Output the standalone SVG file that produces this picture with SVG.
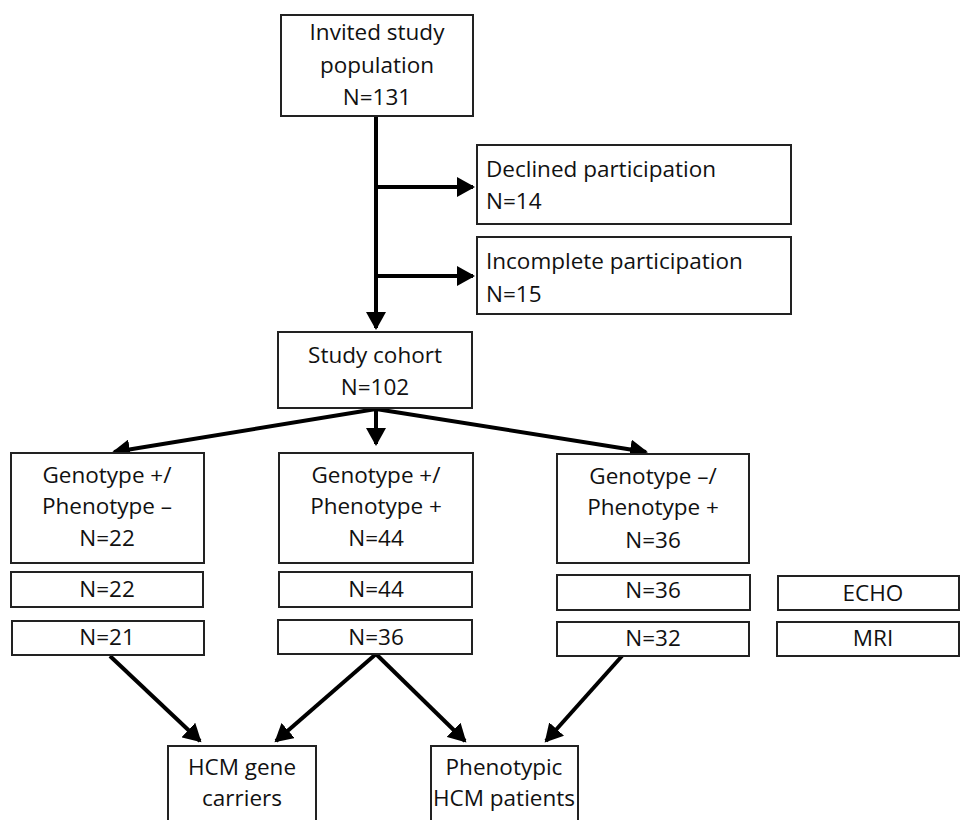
<svg xmlns="http://www.w3.org/2000/svg" width="960" height="820" viewBox="0 0 960 820">
<style>
.box{fill:#fff;stroke:#222;stroke-width:2}
text{font-family:"Open Sans","Liberation Sans",sans-serif;font-size:22.5px;fill:#111}
.c{text-anchor:middle}
.ln{stroke:#000;stroke-width:4;fill:none}
</style>
<defs>
<marker id="ah" markerWidth="5" markerHeight="5" refX="4" refY="2.5" orient="auto" markerUnits="strokeWidth">
<path d="M0,0 L4.5,2.5 L0,5 z" fill="#000"/>
</marker>
</defs>
<rect width="960" height="820" fill="#fff"/>
<g id="connectors">
<line class="ln" x1="376" y1="116" x2="376" y2="328" marker-end="url(#ah)"/>
<line class="ln" x1="376" y1="187" x2="473" y2="187" marker-end="url(#ah)"/>
<line class="ln" x1="376" y1="276" x2="473" y2="276" marker-end="url(#ah)"/>
<line class="ln" x1="376" y1="409" x2="114" y2="452" marker-end="url(#ah)"/>
<line class="ln" x1="376" y1="409" x2="376" y2="444" marker-end="url(#ah)"/>
<line class="ln" x1="376" y1="409" x2="646" y2="452" marker-end="url(#ah)"/>
<line class="ln" x1="110" y1="656" x2="200" y2="741" marker-end="url(#ah)"/>
<line class="ln" x1="376" y1="654" x2="276" y2="741" marker-end="url(#ah)"/>
<line class="ln" x1="376" y1="654" x2="465" y2="741" marker-end="url(#ah)"/>
<line class="ln" x1="622" y1="656" x2="546" y2="741" marker-end="url(#ah)"/>
</g>
<g id="invited">
<rect class="box" x="281" y="15" width="192" height="101"/>
<text class="c" x="377" y="40">Invited study</text>
<text class="c" x="377" y="73">population</text>
<text class="c" x="377" y="105">N=131</text>
</g>
<g id="declined">
<rect class="box" x="477" y="145" width="314" height="79"/>
<text x="486" y="177">Declined participation</text>
<text x="486" y="209">N=14</text>
</g>
<g id="incomplete">
<rect class="box" x="477" y="237" width="314" height="77"/>
<text x="486" y="269">Incomplete participation</text>
<text x="486" y="302">N=15</text>
</g>
<g id="cohort">
<rect class="box" x="278" y="332" width="194" height="76"/>
<text class="c" x="375" y="363">Study cohort</text>
<text class="c" x="375" y="395">N=102</text>
</g>
<g id="gp-pm">
<rect class="box" x="11" y="453" width="193" height="110"/>
<text class="c" x="107" y="483">Genotype +/</text>
<text class="c" x="107" y="514">Phenotype –</text>
<text class="c" x="107" y="546">N=22</text>
</g>
<g id="gp-pp">
<rect class="box" x="279" y="453" width="194" height="110"/>
<text class="c" x="376" y="483">Genotype +/</text>
<text class="c" x="376" y="514">Phenotype +</text>
<text class="c" x="376" y="546">N=44</text>
</g>
<g id="gm-pp">
<rect class="box" x="557" y="454" width="192" height="109"/>
<text class="c" x="653" y="484">Genotype –/</text>
<text class="c" x="653" y="515">Phenotype +</text>
<text class="c" x="653" y="548">N=36</text>
</g>
<g id="echo-left">
<rect class="box" x="11" y="572" width="192" height="35"/>
<text class="c" x="107" y="597">N=22</text>
</g>
<g id="mri-left">
<rect class="box" x="12" y="621" width="192" height="34"/>
<text class="c" x="107" y="645">N=21</text>
</g>
<g id="echo-mid">
<rect class="box" x="279" y="572" width="193" height="35"/>
<text class="c" x="376" y="597">N=44</text>
</g>
<g id="mri-mid">
<rect class="box" x="278" y="620" width="194" height="34"/>
<text class="c" x="376" y="645">N=36</text>
</g>
<g id="echo-right">
<rect class="box" x="557" y="575" width="193" height="35"/>
<text class="c" x="653" y="598">N=36</text>
</g>
<g id="mri-right">
<rect class="box" x="557" y="622" width="192" height="34"/>
<text class="c" x="653" y="646">N=32</text>
</g>
<g id="echo">
<rect class="box" x="778" y="576" width="181" height="34"/>
<text class="c" x="873" y="601">ECHO</text>
</g>
<g id="mri">
<rect class="box" x="777" y="622" width="182" height="34"/>
<text class="c" x="873" y="646">MRI</text>
</g>
<g id="carriers">
<rect class="box" x="168" y="746" width="148" height="80"/>
<text class="c" x="242" y="775">HCM gene</text>
<text class="c" x="242" y="806">carriers</text>
</g>
<g id="patients">
<rect class="box" x="431" y="746" width="147" height="80"/>
<text class="c" x="504" y="775">Phenotypic</text>
<text class="c" x="504" y="806">HCM patients</text>
</g>
</svg>
